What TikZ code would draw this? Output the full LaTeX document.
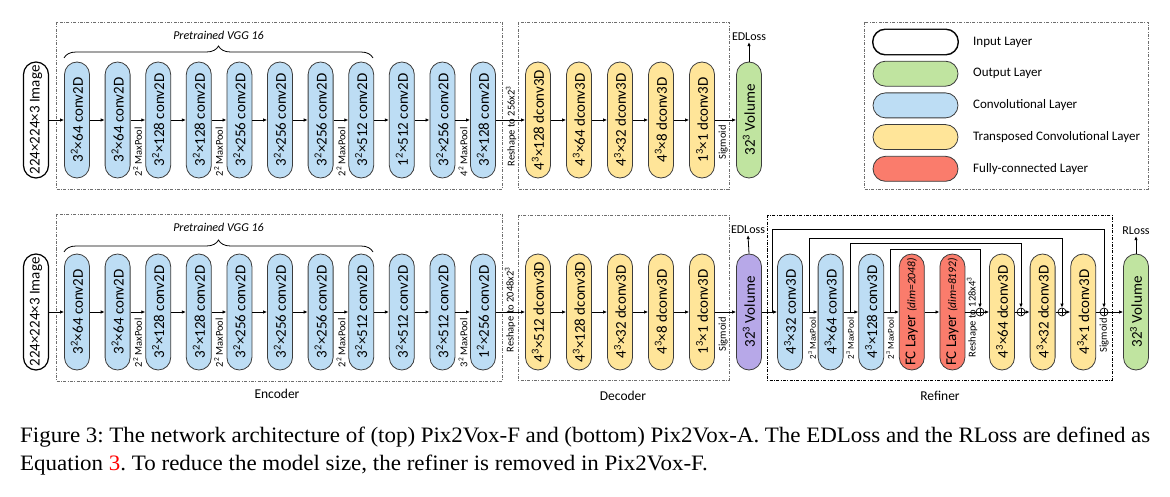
\documentclass[tikz,border=0pt]{standalone}
\usepackage{fontspec}
\setmainfont{Carlito}
\newfontfamily\capfont[FakeStretch=1.045]{Liberation Serif}
\usepackage{tikz}
\usetikzlibrary{arrows.meta,decorations.pathreplacing}

\definecolor{convblue}{RGB}{189,221,244}
\definecolor{dconvyellow}{RGB}{255,229,153}
\definecolor{outgreen}{RGB}{192,228,160}
\definecolor{fcred}{RGB}{250,124,108}
\definecolor{volpurple}{RGB}{183,168,232}
\definecolor{rimgray}{RGB}{60,60,60}
\definecolor{boxgray}{RGB}{110,110,110}

\def\PillLen{116pt}
\def\PillWd{25pt}
\newcommand{\sps}[2]{#1\textsuperscript{#2}}

\tikzset{
  layer/.style={draw=rimgray, line width=0.8pt, rotate=90, minimum width=\PillLen,
    minimum height=\PillWd, rounded corners=12.5pt, inner sep=0pt,
    font=\fontsize{15}{15}\selectfont},
  inlayer/.style={layer, fill=white, draw=black, line width=1.2pt},
  conv/.style={layer, fill=convblue},
  dconv/.style={layer, fill=dconvyellow},
  outlayer/.style={layer, fill=outgreen},
  fclayer/.style={layer, fill=fcred},
  midlayer/.style={layer, fill=volpurple},
  flow/.style={-{Latex[length=4pt,width=3.5pt]}, line width=0.8pt},
  tag/.style={rotate=90, anchor=east, inner sep=0pt, font=\fontsize{10.5}{10.5}\selectfont},
  smalltag/.style={tag, font=\fontsize{9}{9}\selectfont},
  part/.style={draw=boxgray, line width=0.6pt, dash pattern=on 3pt off 1.5pt on 0.7pt off 1.5pt},
  addop/.style={circle, draw, line width=0.7pt, inner sep=0pt, minimum size=8pt,
    path picture={\draw[line width=0.6pt] (path picture bounding box.north) -- (path picture bounding box.south)
      (path picture bounding box.west) -- (path picture bounding box.east);}},
  keypill/.style={draw=rimgray, line width=0.8pt, minimum width=85pt, minimum height=25pt, rounded corners=12.5pt},
  loss/.style={inner sep=1pt, font=\fontsize{12}{12}\selectfont},
  partname/.style={font=\fontsize{13.5}{13.5}\selectfont},
}

\begin{document}
\begin{tikzpicture}[x=1pt,y=-1pt]
\useasboundingbox (0,0) rectangle (1170,497);

% ---------- top row: Pix2Vox-F
\draw[part] (56,22) rectangle (502,189);
\draw[part] (518,22) rectangle (729,189);
\node[inlayer] (tin) at (36,120) {224×224×3 Image};
\foreach \lab [count=\i] in {{\sps{3}{2}×64 conv2D},{\sps{3}{2}×64 conv2D},{\sps{3}{2}×128 conv2D},
    {\sps{3}{2}×128 conv2D},{\sps{3}{2}×256 conv2D},{\sps{3}{2}×256 conv2D},{\sps{3}{2}×256 conv2D},
    {\sps{3}{2}×512 conv2D},{\sps{1}{2}×512 conv2D},{\sps{3}{2}×256 conv2D},{\sps{3}{2}×128 conv2D}}
  \node[conv] (te\i) at ({77+40.6*(\i-1)},120) {\lab};
\foreach \lab [count=\i] in {{\sps{4}{3}×128 dconv3D},{\sps{4}{3}×64 dconv3D},{\sps{4}{3}×32 dconv3D},
    {\sps{4}{3}×8 dconv3D},{\sps{1}{3}×1 dconv3D}}
  \node[dconv] (td\i) at ({538+41*(\i-1)},120) {\lab};
\node[outlayer] (tvol) at (749,120) {\sps{32}{3} Volume};
\node[loss] (tedl) at (749,37) {EDLoss};
% top connectors
\draw[flow] (tin) -- (te1);
\foreach \i [evaluate=\i as \j using int(\i+1)] in {1,...,10}
  \draw[flow] (te\i) -- (te\j);
\draw[flow] (te11) -- (td1);
\foreach \i [evaluate=\i as \j using int(\i+1)] in {1,...,4}
  \draw[flow] (td\i) -- (td\j);
\draw[flow] (td5) -- (tvol);
\draw[flow] (tvol.east) -- (tedl.south);
% top tags
\node[tag] (tp1) at (137.5,127) {\sps{2}{2} MaxPool};
\node[tag] (tp2) at (218.5,127) {\sps{2}{2} MaxPool};
\node[tag] (tp3) at (341,127) {\sps{2}{2} MaxPool};
\node[tag] (tp4) at (463,127) {\sps{4}{2} MaxPool};
\node[tag] (trs) at (511,86) {Reshape to 256x\sps{2}{3}};
\node[tag] (tsg) at (723,125) {Sigmoid};
\draw[decorate, decoration={brace, amplitude=12pt}, line width=0.8pt] (64,58) -- (373,58);
\node[font=\fontsize{12}{12}\selectfont\itshape] (tvgg) at (218.5,35) {Pretrained VGG 16};

% ---------- legend
\draw[part] (864,22) rectangle (1148,189);
\foreach \c/\lab [count=\i] in {white/Input Layer, outgreen/Output Layer, convblue/Convolutional Layer,
    dconvyellow/Transposed Convolutional Layer, fcred/Fully-connected Layer}
{
  \node[keypill, fill=\c] (key\i) at (915.5,{42+31.7*(\i-1)}) {};
  \node[anchor=west, inner sep=0pt, font=\fontsize{13}{13}\selectfont] (keytxt\i) at (973,{42+31.7*(\i-1)}) {\lab};
}
\draw[black, line width=1.1pt, rounded corners=12.5pt] (key1.south west) rectangle (key1.north east);

% ---------- bottom row: Pix2Vox-A
\draw[part] (56,214) rectangle (502,381);
\draw[part] (518,215) rectangle (729,380);
\draw[part, draw=black] (767,215) rectangle (1112,380);
\node[inlayer] (bin) at (36,312) {224×224×3 Image};
\foreach \lab [count=\i] in {{\sps{3}{2}×64 conv2D},{\sps{3}{2}×64 conv2D},{\sps{3}{2}×128 conv2D},
    {\sps{3}{2}×128 conv2D},{\sps{3}{2}×256 conv2D},{\sps{3}{2}×256 conv2D},{\sps{3}{2}×256 conv2D},
    {\sps{3}{2}×512 conv2D},{\sps{3}{2}×512 conv2D},{\sps{3}{2}×512 conv2D},{\sps{1}{2}×256 conv2D}}
  \node[conv] (be\i) at ({77+40.6*(\i-1)},312) {\lab};
\foreach \lab [count=\i] in {{\sps{4}{3}×512 dconv3D},{\sps{4}{3}×128 dconv3D},{\sps{4}{3}×32 dconv3D},
    {\sps{4}{3}×8 dconv3D},{\sps{1}{3}×1 dconv3D}}
  \node[dconv] (bd\i) at ({538+41*(\i-1)},312) {\lab};
\node[midlayer] (bvol) at (749,312) {\sps{32}{3} Volume};
\node[loss] (bedl) at (748,230) {EDLoss};
% refiner
\node[conv] (r1) at (790,312) {\sps{4}{3}×32 conv3D};
\node[conv] (r2) at (830.6,312) {\sps{4}{3}×64 conv3D};
\node[conv] (r3) at (871.2,312) {\sps{4}{3}×128 conv3D};
\node[fclayer] (fc1) at (911.8,312) {FC Layer {\fontsize{11.5}{11.5}\selectfont\itshape (dim=2048)}};
\node[fclayer] (fc2) at (952.4,312) {FC Layer {\fontsize{11.5}{11.5}\selectfont\itshape (dim=8192)}};
\node[addop] (s1) at (980,312) {};
\node[dconv] (r6) at (1002,312) {\sps{4}{3}×64 dconv3D};
\node[addop] (s2) at (1021,312) {};
\node[dconv] (r7) at (1042.6,312) {\sps{4}{3}×32 dconv3D};
\node[addop] (s3) at (1062,312) {};
\node[dconv] (r8) at (1083.2,312) {\sps{4}{3}×1 dconv3D};
\node[addop] (s4) at (1104,312) {};
\node[outlayer] (bout) at (1136,312) {\sps{32}{3} Volume};
\node[loss] (brl) at (1136,231) {RLoss};
% bottom connectors
\draw[flow] (bin) -- (be1);
\foreach \i [evaluate=\i as \j using int(\i+1)] in {1,...,10}
  \draw[flow] (be\i) -- (be\j);
\draw[flow] (be11) -- (bd1);
\foreach \i [evaluate=\i as \j using int(\i+1)] in {1,...,4}
  \draw[flow] (bd\i) -- (bd\j);
\draw[flow] (bd5) -- (bvol);
\draw[flow] (bvol.east) -- (bedl.south);
\draw[flow] (bvol) -- (r1);
\draw[flow] (r1) -- (r2);
\draw[flow] (r2) -- (r3);
\draw[flow] (r3) -- (fc1);
\draw[flow] (fc1) -- (fc2);
\draw[line width=0.8pt] (fc2) -- (s1);
\draw[flow] (s1) -- (r6);
\draw[line width=0.8pt] (r6) -- (s2);
\draw[flow] (s2) -- (r7);
\draw[line width=0.8pt] (r7) -- (s3);
\draw[flow] (s3) -- (r8);
\draw[line width=0.8pt] (r8) -- (s4);
\draw[flow] (s4) -- (bout);
\draw[flow] (bout.east) -- (brl.south);
% skip connections
\coordinate (k1) at (772,312);
\coordinate (k2) at (809,312);
\coordinate (k3) at (850,312);
\coordinate (k4) at (890,312);
\draw[flow] (k1) -- ++(0,-83) -| (s4);
\draw[flow] (k2) -- ++(0,-74) -| (s3);
\draw[flow] (k3) -- ++(0,-69) -| (s2);
\draw[flow] (k4) -- ++(0,-63) -| (s1);
% bottom tags
\node[tag] (bp1) at (137.5,318) {\sps{2}{2} MaxPool};
\node[tag] (bp2) at (218.5,318) {\sps{2}{2} MaxPool};
\node[tag] (bp3) at (341,318) {\sps{2}{2} MaxPool};
\node[tag] (bp4) at (463,318) {\sps{3}{2} MaxPool};
\node[tag] (brs) at (510,267) {Reshape to 2048x\sps{2}{3}};
\node[tag] (bsg) at (723,317) {Sigmoid};
\node[smalltag] (rp1) at (812,317) {\sps{2}{3} MaxPool};
\node[smalltag] (rp2) at (850,317) {\sps{2}{3} MaxPool};
\node[smalltag] (rp3) at (890,317) {\sps{2}{3} MaxPool};
\node[tag] (rrs) at (972,277) {Reshape to 128x\sps{4}{3}};
\node[tag] (rsg) at (1104,318) {Sigmoid};
\draw[decorate, decoration={brace, amplitude=12pt}, line width=0.8pt] (64,252) -- (373,252);
\node[font=\fontsize{12}{12}\selectfont\itshape] (bvgg) at (218.5,227) {Pretrained VGG 16};
\node[partname] (encname) at (277,394) {Encoder};
\node[partname] (decname) at (623,396) {Decoder};
\node[partname] (refname) at (940,396) {Refiner};

% ---------- caption
\node[anchor=north west, inner sep=0pt, text width=1130pt, align=justify,
  font=\capfont\fontsize{22}{28}\selectfont\frenchspacing] (cap) at (20,427)
  {Figure 3: The network architecture of (top) Pix2Vox-F and (bottom) Pix2Vox-A. The EDLoss and the RLoss are defined as\linebreak
   Equation {\color{red}3}. To reduce the model size, the refiner is removed in Pix2Vox-F.};
\end{tikzpicture}
\end{document}
